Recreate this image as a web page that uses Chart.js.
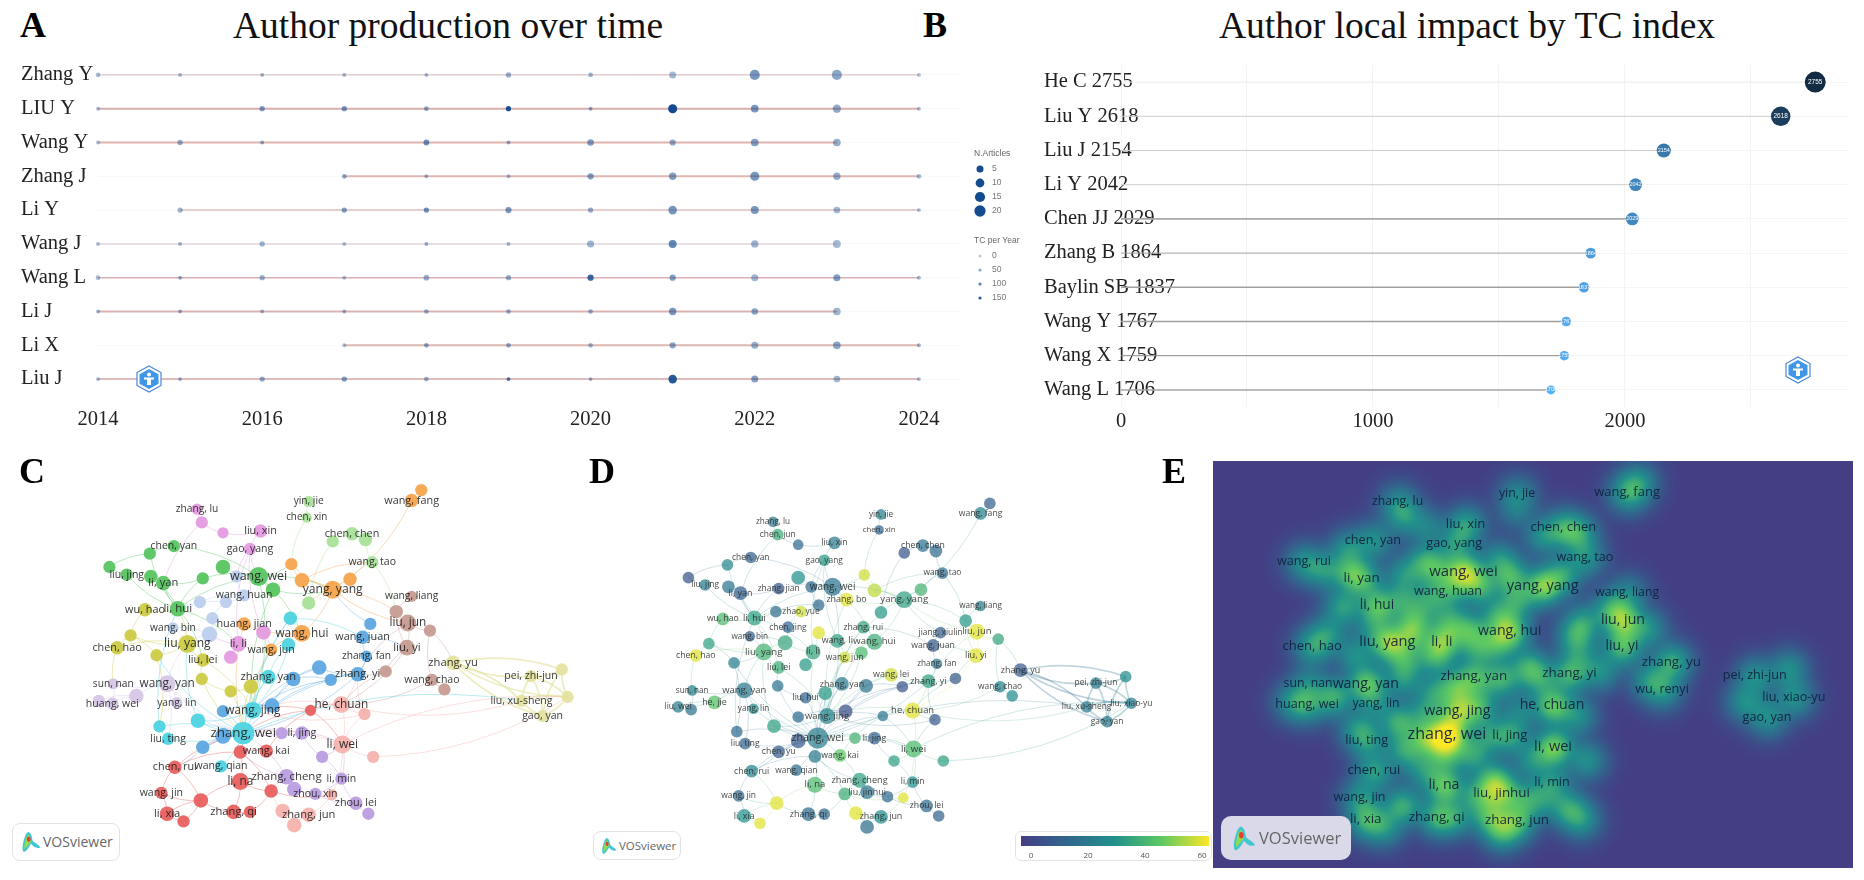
<!DOCTYPE html>
<html>
<head>
<meta charset="utf-8">
<title>Author production and collaboration</title>
<script src="https://cdn.jsdelivr.net/npm/chart.js@4/dist/chart.umd.min.js"></script>
<style>
  html, body { margin: 0; padding: 0; background: #fff; }
  #page { position: relative; width: 1864px; height: 880px; overflow: hidden; }
  #page canvas { position: absolute; filter: blur(0.4px); }
  .letter, .title { position: absolute; font-family: "Liberation Serif", serif; line-height: 36px; color: #111; white-space: nowrap; }
  .letter { font-size: 36px; font-weight: bold; color: #000; }
  .title { font-size: 37.5px; }
  .badge { position: absolute; box-sizing: border-box; border-radius: 8px; font-family: "Open Sans", sans-serif; color: #666; }
  .badge svg { position: absolute; }
  .badge span { position: absolute; white-space: nowrap; }
  .hex { position: absolute; width: 26px; height: 28px; }
  #scale { position: absolute; left: 1015px; top: 831px; width: 197px; height: 30px; box-sizing: border-box; border: 1px solid #e4e4e4; border-radius: 6px; background: #fff; }
  #scale i { position: absolute; left: 5px; top: 4px; width: 188px; height: 10px; }
  #scale span { position: absolute; top: 17px; width: 20px; margin-left: -10px; text-align: center; font: 8px "Open Sans", sans-serif; color: #555; }
</style>
</head>
<body>
<div id="page">
  <canvas id="chartA" width="1030" height="390" style="left:0;top:50px"></canvas>
  <canvas id="chartB" width="824" height="390" style="left:1040px;top:50px"></canvas>
  <canvas id="chartC" width="600" height="440" style="left:0;top:440px"></canvas>
  <canvas id="chartD" width="610" height="440" style="left:600px;top:440px"></canvas>
  <canvas id="chartE" width="640" height="407" style="left:1213px;top:461px"></canvas>

  <div class="letter" style="left:20px;top:7px">A</div>
  <div class="title" style="left:233px;top:8px">Author production over time</div>
  <div class="letter" style="left:923px;top:7px">B</div>
  <div class="title" style="left:1219px;top:8px">Author local impact by TC index</div>
  <div class="letter" style="left:19px;top:453px">C</div>
  <div class="letter" style="left:589px;top:453px">D</div>
  <div class="letter" style="left:1162px;top:453px">E</div>

  <svg width="0" height="0" style="position:absolute">
    <symbol id="hexMark" viewBox="0 0 26 28">
      <polygon points="13,1 25,7.5 25,20.5 13,27 1,20.5 1,7.5" fill="#fff" stroke="#4a86d8" stroke-width="1.2"/>
      <polygon points="13,4 22.5,9.2 22.5,18.8 13,24 3.5,18.8 3.5,9.2" fill="#3f97e6"/>
      <circle cx="13" cy="9.5" r="2" fill="#fff"/>
      <rect x="8" y="12.5" width="10" height="2" fill="#fff"/>
      <rect x="11" y="14" width="4" height="6" fill="#fff"/>
    </symbol>
    <symbol id="vosMark" viewBox="0 0 22 24">
      <path d="M8 1 C12 2 12 8 13 11 C15 13 21 16 21 18 C18 20 13 17 11 14 C9 17 7 22 3 23 C0 20 3 10 4 7 C5 4 6 2 8 1 Z" fill="#3fc6d0"/>
      <path d="M8 4 C10 5 10 9 11 12 C9 14 6 18 4 20 C3 16 5 9 6 7 Z" fill="#8fdc4e"/>
      <ellipse cx="8.5" cy="9" rx="2" ry="3" fill="#ec3b2e"/>
    </symbol>
  </svg>
  <svg class="hex" style="left:136px;top:365px"><use href="#hexMark"/></svg>
  <svg class="hex" style="left:1785px;top:356px"><use href="#hexMark"/></svg>

  <div class="badge" style="left:12px;top:823px;width:108px;height:38px;background:#fff;border:1px solid #e2e2e2">
    <svg style="left:8px;top:7px" width="20" height="22"><use href="#vosMark"/></svg>
    <span style="left:30px;top:8px;font-size:14px;line-height:20px">VOSviewer</span>
  </div>
  <div class="badge" style="left:593px;top:831px;width:88px;height:29px;background:#fff;border:1px solid #e2e2e2">
    <svg style="left:7px;top:5px" width="16" height="18"><use href="#vosMark"/></svg>
    <span style="left:25px;top:5px;font-size:11.5px;line-height:18px">VOSviewer</span>
  </div>
  <div id="scale"><i></i></div>
  <div class="badge" style="left:1221px;top:816px;width:130px;height:44px;background:#d9d9e9;border-radius:10px">
    <svg style="left:11px;top:9px" width="24" height="27"><use href="#vosMark"/></svg>
    <span style="left:38px;top:10px;font-size:16.5px;line-height:24px">VOSviewer</span>
  </div>
</div>

<script>
/************************************************************
    PANEL A - author production over time
*************************************************************/
var years = [2014, 2015, 2016, 2017, 2018, 2019, 2020, 2021, 2022, 2023, 2024];
var authorsA = ['Zhang Y', 'LIU Y', 'Wang Y', 'Zhang J', 'Li Y', 'Wang J', 'Wang L', 'Li J', 'Li X', 'Liu J'];
// one row per author, one column per year, null = no paper that year
var articles = [
  [2, 1, 1, 1, 1, 3, 2, 7, 18, 18, 1],
  [1, null, 3, 3, 2, 3, 1, 14, 9, 11, 1],
  [1, 3, 1, null, 4, 1, 6, 5, 9, 9, null],
  [null, null, null, 2, 1, 1, 5, 8, 14, 8, 2],
  [null, 3, null, 3, 3, 5, 3, 12, 10, 6, 1],
  [1, 1, 3, 1, 1, 1, 7, 10, 8, 10, null],
  [2, 1, 3, 1, 4, 3, 5, 5, 7, 7, 1],
  [1, 1, 1, 1, 2, 2, 2, 8, 6, 9, null],
  [null, null, null, 1, 2, 2, 2, 5, 7, 9, 1],
  [1, 1, 3, 3, 2, 1, 1, 12, 7, 6, 1]
];
var tcPerYear = [
  [20, 30, 30, 30, 30, 40, 30, 25, 70, 50, 15],
  [20, null, 60, 70, 50, 160, 40, 170, 70, 45, 20],
  [20, 40, 40, null, 80, 40, 60, 45, 60, 40, null],
  [null, null, null, 50, 30, 25, 60, 60, 70, 40, 25],
  [null, 30, null, 60, 80, 70, 40, 70, 70, 30, 25],
  [25, 30, 30, 25, 40, 30, 30, 90, 35, 25, null],
  [25, 40, 35, 25, 35, 40, 130, 60, 30, 60, 25],
  [30, 35, 30, 35, 40, 40, 40, 70, 50, 30, null],
  [null, null, null, 25, 50, 50, 30, 50, 40, 50, 30],
  [30, 35, 40, 60, 40, 120, 35, 150, 60, 30, 25]
];
var legendArticles = [5, 10, 15, 20];
var legendTc = [0, 50, 100, 150];

/************************************************************
    PANEL B - author local impact
*************************************************************/
var authorsB = ['He C', 'Liu Y', 'Liu J', 'Li Y', 'Chen JJ', 'Zhang B', 'Baylin SB', 'Wang Y', 'Wang X', 'Wang L'];
var tcIndex = [2755, 2618, 2154, 2042, 2029, 1864, 1837, 1767, 1759, 1706];
var ticksB = [0, 500, 1000, 1500, 2000, 2500];

/************************************************************
    PANELS C, D, E - the same co-authorship map
*************************************************************/
var clusterSizes = [8, 7, 11, 9, 7, 9, 11, 8, 9, 6, 6, 9, 12, 8];
var nodeNames = [
  'zhang, lu', 'chen, jun', 'liu, fang', 'liu, xin', 'gao, yang', 'li, li', 'wang, li', 'wang, ying',
  'yin, jie', 'chen, xin', 'chen, chen', 'li, jun', 'wang, ping', 'wang, tao', 'zhang, min',
  'chen, yan', 'li, qing', 'wang, rui', 'liu, jing', 'zhao, wei', 'li, yan', 'zhang, jian', 'zhang, hong', 'wang, wei', 'zhang, bo', 'li, hui',
  'wang, gang', 'wang, fang', 'wu, jie', 'li, ming', 'zhang, lin', 'yang, yang', 'huang, jian', 'wang, hui', 'wang, jun',
  'chen, lei', 'wang, huan', 'liu, hong', 'zhao, yue', 'chen, jing', 'wang, bin', 'li, xin',
  'zhang, rui', 'li, bo', 'zhang, yan', 'wang, jing', 'liu, bo', 'zhang, hao', 'liu, ting', 'zhang, wei', 'wang, qian',
  'jiang, xiulin', 'wang, juan', 'zhang, fan', 'wang, lei', 'zhang, yi', 'li, tao', 'chen, wei', 'li, yong', 'liu, wen', 'xu, jing', 'chen, yu',
  'wang, liang', 'liu, min', 'liu, jun', 'li, peng', 'liu, yi', 'zhang, ling', 'wang, chao', 'wu, renyi',
  'wu, hao', 'zhang, qian', 'chen, hao', 'wang, yu', 'liu, yang', 'liu, lei', 'yang, fan', 'liu, hui', 'li, dan',
  'zhang, yu', 'pei, zhi-jun', 'li, shu-ping', 'liu, xiao-yu', 'liu, xu-sheng', 'gao, yan',
  'sun, nan', 'wang, yan', 'he, jie', 'liu, wei', 'huang, wei', 'yang, lin',
  'zhao, jun', 'li, jing', 'li, lin', 'zhang, cheng', 'li, min', 'liu, jinhui', 'zhou, xin', 'zhou, lei', 'xu, wei',
  'sun, wei', 'wang, kai', 'yang, kai', 'chen, rui', 'li, na', 'liu, na', 'wang, jin', 'li, jie', 'li, xia', 'li, hong', 'zhang, qi', 'wang, xin',
  'he, chuan', 'li, yu', 'li, wei', 'yang, li', 'zhang, hui', 'wang, min', 'zhang, jun', 'wang, yi'
];
var nodeX = [
  193, 198, 220, 259, 248, 236, 262, 228,
  309, 307, 354, 334, 368, 375, 309,
  169, 144, 102, 120, 145, 158, 199, 220, 257, 272, 173,
  426, 416, 291, 302, 352, 334, 242, 302, 270,
  234, 242, 196, 223, 209, 168, 206,
  290, 288, 267, 251, 194, 154, 163, 241, 218,
  373, 365, 369, 320, 360, 332, 293, 271, 220, 220, 199,
  416, 400, 412, 435, 411, 389, 437, 450,
  139, 124, 110, 151, 183, 199, 198, 228, 249,
  459, 540, 572, 578, 530, 552,
  106, 162, 130, 91, 105, 172,
  281, 302, 323, 286, 343, 294, 316, 358, 371,
  311, 265, 238, 170, 238, 270, 156, 197, 162, 179, 231, 248,
  343, 367, 344, 376, 333, 282, 309, 294
];
var nodeY = [
  501, 515, 526, 524, 543, 643, 631, 657,
  493, 510, 527, 535, 533, 557, 600,
  540, 548, 562, 570, 572, 579, 574, 562, 572, 586, 606,
  481, 492, 559, 576, 575, 586, 622, 632, 649,
  572, 592, 599, 599, 616, 626, 633,
  616, 644, 678, 713, 724, 730, 743, 737, 772,
  622, 636, 656, 668, 675, 681, 680, 708, 714, 740, 752,
  593, 609, 621, 629, 647, 672, 681, 691,
  607, 634, 647, 655, 643, 660, 680, 693, 688,
  663, 677, 670, 699, 703, 719,
  685, 685, 698, 703, 706, 705,
  737, 737, 762, 783, 785, 796, 801, 811, 822,
  713, 756, 757, 773, 788, 798, 800, 808, 822, 830, 820, 820,
  707, 717, 749, 762, 802, 819, 823, 834
];
var nodeWeight = [
  10, 11, 10, 12, 11, 14, 13, 12,
  10, 9, 12, 11, 12, 11, 12,
  11, 11, 11, 11, 12, 13, 11, 13, 17, 13, 14,
  11, 12, 11, 13, 12, 16, 12, 15, 11,
  11, 11, 11, 11, 11, 10, 14,
  12, 12, 13, 15, 13, 11, 11, 20, 11,
  11, 12, 10, 13, 13, 11, 13, 13, 11, 14, 12,
  10, 12, 15, 11, 14, 11, 11, 11,
  12, 11, 12, 11, 16, 12, 11, 11, 13,
  13, 11, 11, 11, 11, 11,
  10, 15, 13, 11, 11, 10,
  11, 12, 11, 14, 11, 13, 11, 12, 11,
  10, 12, 12, 12, 15, 12, 11, 13, 13, 11, 13, 11,
  15, 11, 16, 11, 10, 13, 13, 13
];
// average publication year score of panel D
var nodeScore = [
  20, 38, 14, 22, 32, 36, 34, 32,
  24, 12, 18, 6, 14, 16, 32,
  10, 26, 6, 22, 18, 10, 8, 30, 18, 60, 34,
  10, 24, 58, 56, 40, 34, 60, 38, 58,
  14, 14, 15, 58, 14, 10, 36,
  36, 42, 20, 24, 34, 14, 12, 22, 16,
  10, 8, 20, 58, 34, 6, 18, 4, 14, 8, 10,
  22, 32, 60, 36, 60, 8, 24, 28,
  42, 34, 60, 22, 40, 38, 18, 12, 32,
  8, 20, 28, 22, 20, 20,
  24, 20, 44, 22, 18, 28,
  40, 12, 34, 34, 30, 18, 14, 14, 12,
  20, 46, 20, 24, 42, 38, 14, 60, 30, 60, 14, 14,
  60, 8, 42, 34, 60, 60, 28, 16
];
var edgePairs = [
  [0,1],[1,2],[2,3],[3,4],[4,23],[1,20],[4,35],[4,5],[5,41],[6,34],[7,5],[6,4],
  [8,9],[9,28],[10,11],[10,12],[11,14],[12,13],[13,30],[13,63],
  [15,16],[16,17],[15,23],[16,25],[17,18],[18,25],[19,25],[20,25],[20,21],[21,23],[22,23],[25,23],[25,21],[25,75],[25,5],[23,24],[24,31],[23,31],[23,28],[23,33],[24,45],[23,45],
  [26,27],[27,31],[28,31],[29,31],[30,31],[28,29],[31,33],[31,14],[14,42],[33,34],[32,33],[34,45],[32,49],[31,64],[31,63],[29,13],
  [35,36],[36,37],[36,38],[37,25],[38,39],[39,41],[41,40],[40,74],[35,23],[38,25],[41,74],
  [42,45],[42,52],[43,34],[43,45],[44,45],[45,49],[46,49],[47,49],[48,49],[47,48],[50,49],[46,45],[44,49],[49,73],[42,49],[46,74],[43,44],[47,25],
  [51,52],[52,53],[53,55],[54,55],[54,57],[55,56],[56,57],[57,58],[58,45],[58,59],[59,49],[60,49],[61,49],[61,60],[55,58],[56,45],[52,66],[51,31],[56,49],[55,49],[54,45],[57,45],
  [62,63],[63,64],[64,65],[64,66],[65,68],[66,67],[67,55],[68,69],[63,66],[67,112],[68,112],[64,55],[66,112],[65,79],
  [70,71],[71,72],[71,73],[70,25],[73,74],[74,75],[75,76],[76,77],[77,78],[78,45],[78,44],[72,85],[72,74],[74,25],[73,47],[76,49],[77,49],[78,49],[75,45],[71,74],
  [79,80],[79,81],[79,82],[79,83],[80,81],[80,82],[80,83],[80,84],[81,82],[81,84],[82,83],[82,84],[83,84],[79,84],[49,83],[112,83],[114,82],[115,82],
  [85,86],[86,87],[87,88],[88,89],[85,89],[86,90],[86,74],[90,49],[89,87],[86,49],[86,48],
  [91,92],[91,49],[92,49],[92,93],[93,114],[94,49],[94,96],[94,105],[95,97],[95,98],[96,97],[97,98],[98,99],[93,95],[92,114],[94,102],[95,114],
  [100,112],[100,49],[100,101],[101,102],[102,49],[102,104],[102,103],[103,49],[103,106],[103,107],[104,107],[104,110],[104,105],[105,102],[106,107],[106,108],[107,108],[107,109],[108,109],[107,110],[110,111],[105,111],[105,116],[100,114],[100,45],[61,103],
  [112,113],[112,114],[113,114],[114,115],[114,116],[116,118],[117,118],[118,119],[117,119],[112,45],[113,45],[113,55],[114,49],[117,105],[112,55]
];
var labelsC = ['zhang, lu', 'yin, jie', 'chen, xin', 'wang, fang', 'liu, xin', 'gao, yang', 'chen, chen', 'chen, yan', 'wang, tao', 'liu, jing', 'li, yan', 'wang, wei', 'wang, huan', 'yang, yang', 'wang, liang', 'wu, hao', 'li, hui', 'huang, jian', 'wang, bin', 'wang, hui', 'liu, jun', 'wang, juan', 'liu, yang', 'li, li', 'chen, hao', 'wang, jun', 'liu, yi', 'liu, lei', 'zhang, fan', 'zhang, yu', 'zhang, yi', 'zhang, yan', 'sun, nan', 'wang, yan', 'wang, chao', 'pei, zhi-jun', 'huang, wei', 'yang, lin', 'he, chuan', 'wang, jing', 'liu, xu-sheng', 'gao, yan', 'zhang, wei', 'li, jing', 'liu, ting', 'wang, kai', 'li, wei', 'chen, rui', 'wang, qian', 'li, na', 'zhang, cheng', 'li, min', 'zhou, xin', 'wang, jin', 'zhou, lei', 'li, xia', 'zhang, qi', 'zhang, jun'];
var labelsD = ['zhang, lu', 'chen, jun', 'yin, jie', 'chen, xin', 'liu, xin', 'gao, yang', 'chen, chen', 'wang, tao', 'chen, yan', 'wang, fang', 'liu, jing', 'li, yan', 'zhang, jian', 'wang, wei', 'zhang, bo', 'yang, yang', 'zhao, yue', 'wu, hao', 'li, hui', 'chen, jing', 'zhang, rui', 'wang, liang', 'jiang, xiulin', 'liu, jun', 'wang, bin', 'wang, li', 'wang, hui', 'wang, juan', 'liu, yang', 'li, li', 'wang, jun', 'liu, yi', 'chen, hao', 'liu, lei', 'zhang, fan', 'wang, lei', 'zhang, yi', 'zhang, yan', 'zhang, yu', 'sun, nan', 'wang, yan', 'wang, chao', 'liu, wei', 'he, jie', 'yang, lin', 'liu, hui', 'he, chuan', 'wang, jing', 'pei, zhi-jun', 'liu, xu-sheng', 'liu, xiao-yu', 'gao, yan', 'liu, ting', 'zhang, wei', 'li, jing', 'chen, yu', 'wang, kai', 'li, wei', 'chen, rui', 'wang, qian', 'li, na', 'zhang, cheng', 'li, min', 'liu, jinhui', 'wang, jin', 'zhou, lei', 'li, xia', 'zhang, qi', 'zhang, jun'];
var labelsE = ['zhang, lu', 'yin, jie', 'wang, fang', 'liu, xin', 'chen, chen', 'chen, yan', 'gao, yang', 'wang, tao', 'wang, rui', 'li, yan', 'wang, wei', 'yang, yang', 'wang, huan', 'wang, liang', 'li, hui', 'liu, jun', 'wang, hui', 'liu, yi', 'chen, hao', 'liu, yang', 'li, li', 'zhang, yu', 'zhang, yan', 'zhang, yi', 'sun, nan', 'wang, yan', 'wu, renyi', 'pei, zhi-jun', 'liu, xiao-yu', 'huang, wei', 'yang, lin', 'wang, jing', 'he, chuan', 'gao, yan', 'liu, ting', 'zhang, wei', 'li, jing', 'li, wei', 'chen, rui', 'li, min', 'li, na', 'liu, jinhui', 'wang, jin', 'li, xia', 'zhang, qi', 'zhang, jun'];
var scoreTicks = [0, 20, 40, 60];

// cluster colours of panel C and colour ramp of panels D and E
var clusterColors = ['#e49be0', '#a9e29a', '#58c562', '#f5a54e', '#bccfee', '#4fd3e0', '#5da8e2', '#c69c94', '#cccb46', '#e4e3a0', '#d6c7e6', '#bb9ee2', '#e9605f', '#f5b3ae'];
var rampStops = [[68, 62, 133], [49, 104, 142], [33, 145, 140], [94, 201, 98], [253, 231, 37]];

/* ------------------
  helpers
-------------------*/
function rampColor(t) {
  t = Math.max(0, Math.min(1, t)) * (rampStops.length - 1);
  var i = Math.min(Math.floor(t), rampStops.length - 2), f = t - i;
  return rampStops[i].map(function (c, k) { return Math.round(c + (rampStops[i + 1][k] - c) * f); });
}
function scoreColor(score, alpha) {
  var c = rampColor((score + 3) / 66);
  return 'rgba(' + c[0] + ',' + c[1] + ',' + c[2] + ',' + alpha + ')';
}
function hexAlpha(hex, alpha) {
  var n = parseInt(hex.slice(1), 16);
  return 'rgba(' + (n >> 16) + ',' + ((n >> 8) & 255) + ',' + (n & 255) + ',' + alpha + ')';
}
function articleRadius(n) { return 1 + Math.sqrt(n) * 0.95; }
function tcColor(tc) { return 'rgba(19,75,142,' + (0.28 + 0.72 * Math.min(tc / 170, 1)) + ')'; }
// the axes keep exactly the size given to them, no room for overhanging labels
function fixAxis(size) {
  return function (s) {
    s[s.isHorizontal() ? 'height' : 'width'] = size;
    s.paddingTop = s.paddingBottom = s.paddingLeft = s.paddingRight = 0;
  };
}

var nodeCluster = [];
clusterSizes.forEach(function (size, c) { for (var i = 0; i < size; i++) nodeCluster.push(c); });

var scaleBar = document.querySelector('#scale i');
scaleBar.style.background = 'linear-gradient(to right,' + rampStops.map(function (c) { return 'rgb(' + c.join(',') + ')'; }).join(',') + ')';
scoreTicks.forEach(function (v) {
  var s = document.createElement('span');
  s.textContent = v;
  s.style.left = (15 + (v / 20) * 57) + 'px';
  document.getElementById('scale').appendChild(s);
});

Chart.defaults.animation = false;
Chart.defaults.responsive = false;
Chart.defaults.devicePixelRatio = 1;
Chart.defaults.plugins.legend.display = false;
Chart.defaults.plugins.tooltip.enabled = false;

/* ------------------
  panel A chart
-------------------*/
var segColorsA = ['rgba(205,165,170,.8)', 'rgba(215,165,165,.9)', 'rgba(220,170,165,.9)', 'rgba(220,175,170,.9)', 'rgba(225,195,195,.8)', 'rgba(228,220,225,.9)', 'rgba(210,165,170,.85)', 'rgba(215,170,170,.9)', 'rgba(215,175,170,.9)', 'rgba(220,180,180,.9)'];
var segWidthsA = [1, 2, 2, 2, 2, 2, 1.4, 2, 2, 2];
var datasetsA = [];
authorsA.forEach(function (name, row) {
  var have = years.filter(function (y, i) { return articles[row][i] !== null; });
  datasetsA.push({
    type: 'line', data: [{ x: have[0], y: name }, { x: have[have.length - 1], y: name }],
    borderColor: segColorsA[row], borderWidth: segWidthsA[row], pointRadius: 0, clip: false, order: 2
  });
});
authorsA.forEach(function (name, row) {
  var pts = [], cols = [];
  years.forEach(function (y, i) {
    if (articles[row][i] === null) return;
    pts.push({ x: y, y: name, r: articleRadius(articles[row][i]) });
    cols.push(tcColor(tcPerYear[row][i]));
  });
  datasetsA.push({ type: 'bubble', data: pts, backgroundColor: cols, borderWidth: 0, clip: false, order: 1 });
});

var legendPluginA = {
  id: 'legendPluginA',
  afterDraw: function (chart) {
    var ctx = chart.ctx;
    ctx.save();
    ctx.textBaseline = 'middle';
    ctx.textAlign = 'left';
    ctx.fillStyle = '#666';
    ctx.font = '8.5px "Liberation Sans"';
    ctx.fillText('N.Articles', 974, 104);
    ctx.fillText('TC per Year', 974, 191);
    legendArticles.forEach(function (n, i) {
      var y = 119 + i * 14;
      ctx.fillStyle = '#134b8e';
      ctx.beginPath(); ctx.arc(980, y, articleRadius(n) + 0.4, 0, 7); ctx.fill();
      ctx.fillStyle = '#777';
      ctx.fillText(n, 992, y);
    });
    legendTc.forEach(function (v, i) {
      var y = 206 + i * 14;
      ctx.fillStyle = tcColor(v);
      ctx.beginPath(); ctx.arc(980, y, 1.6, 0, 7); ctx.fill();
      ctx.fillStyle = '#777';
      ctx.fillText(v, 992, y);
    });
    ctx.restore();
  }
};

var chartA = new Chart(document.getElementById('chartA'), {
  type: 'bubble',
  data: { datasets: datasetsA },
  plugins: [legendPluginA],
  options: {
    layout: { padding: { left: 21, right: 70, top: 8, bottom: 0 } },
    scales: {
      x: {
        type: 'linear', min: 2014, max: 2024.5,
        grid: { display: false, drawTicks: false }, border: { display: false },
        afterFit: fixAxis(44),
        ticks: {
          stepSize: 2, includeBounds: false, padding: 11, maxRotation: 0, color: '#222',
          font: { family: 'Liberation Serif', size: 20.5 },
          callback: function (v) { return String(v); }
        }
      },
      y: {
        type: 'category', labels: authorsA, offset: true,
        grid: { color: '#f8f8f8', drawTicks: false }, border: { display: false },
        afterFit: fixAxis(77),
        ticks: { autoSkip: false, mirror: true, padding: -77, crossAlign: 'near', color: '#222', font: { family: 'Liberation Serif', size: 20.5 } }
      }
    }
  }
});

/* ------------------
  panel B chart
-------------------*/
var segColorsB = ['#eeeeee', '#cfcfcf', '#cccccc', '#cfcfcf', '#a8a8a8', '#a5a5a5', '#a0a0a0', '#a0a0a0', '#8a8a8a', '#a6a6a6'];
var segWidthsB = [1, 1, 1, 1, 1.6, 1, 1.5, 1.5, 1, 1.5];
var labelsB = authorsB.map(function (name, i) { return name + ' ' + tcIndex[i]; });
var datasetsB = [];
labelsB.forEach(function (label, i) {
  datasetsB.push({
    type: 'line', data: [{ x: 0, y: label }, { x: tcIndex[i], y: label }],
    borderColor: segColorsB[i], borderWidth: segWidthsB[i], pointRadius: 0, clip: false, order: 2
  });
});
function impactT(v) { return (v - 1706) / (2755 - 1706); }
datasetsB.push({
  type: 'bubble',
  data: labelsB.map(function (label, i) { return { x: tcIndex[i], y: label, r: 4.5 + impactT(tcIndex[i]) * 6 }; }),
  backgroundColor: tcIndex.map(function (v) {
    var t = impactT(v);
    return 'rgb(' + Math.round(86 - 67 * t) + ',' + Math.round(177 - 134 * t) + ',' + Math.round(247 - 180 * t) + ')';
  }),
  borderWidth: 0, clip: false, order: 1
});
var valuePluginB = {
  id: 'valuePluginB',
  afterDatasetsDraw: function (chart) {
    var ctx = chart.ctx, sx = chart.scales.x, sy = chart.scales.y;
    ctx.save();
    ctx.fillStyle = '#fff';
    ctx.textAlign = 'center';
    ctx.textBaseline = 'middle';
    tcIndex.forEach(function (v, i) {
      ctx.font = (i < 2 ? 6.5 : 5.5) + 'px "Liberation Sans"';
      ctx.fillText(v, sx.getPixelForValue(v), sy.getPixelForValue(i));
    });
    ctx.restore();
  }
};
var chartB = new Chart(document.getElementById('chartB'), {
  type: 'bubble',
  data: { datasets: datasetsB },
  plugins: [valuePluginB],
  options: {
    layout: { padding: { left: 4, right: 15, top: 15, bottom: 0 } },
    scales: {
      x: {
        type: 'linear', min: 0, max: 2889,
        grid: { color: '#f3f3f3', drawTicks: false }, border: { display: false },
        afterFit: fixAxis(33),
        afterBuildTicks: function (s) { s.ticks = ticksB.map(function (v) { return { value: v }; }); },
        ticks: {
          padding: 2, maxRotation: 0, autoSkip: false, color: '#222',
          font: { family: 'Liberation Serif', size: 20.5 },
          callback: function (v) { return v % 1000 === 0 ? String(v) : ''; }
        }
      },
      y: {
        type: 'category', labels: labelsB, offset: true,
        grid: { color: '#f5f5f5', drawTicks: false }, border: { display: false },
        afterFit: fixAxis(77),
        ticks: { autoSkip: false, mirror: true, padding: -77, crossAlign: 'near', color: '#222', font: { family: 'Liberation Serif', size: 20.5 } }
      }
    }
  }
});

/* ------------------
  network panels
-------------------*/
var edgePlugin = {
  id: 'edgePlugin',
  beforeDatasetsDraw: function (chart, args, opts) {
    var ctx = chart.ctx, sx = chart.scales.x, sy = chart.scales.y;
    ctx.save();
    edgePairs.forEach(function (pair) {
      var a = pair[0], b = pair[1];
      var ax = sx.getPixelForValue(nodeX[a]), ay = sy.getPixelForValue(nodeY[a]);
      var bx = sx.getPixelForValue(nodeX[b]), by = sy.getPixelForValue(nodeY[b]);
      var bend = ((a + b) % 2 ? 1 : -1) * 0.14;
      var thick = nodeCluster[a] === 9 && nodeCluster[b] === 9;
      ctx.beginPath();
      ctx.moveTo(ax, ay);
      ctx.quadraticCurveTo((ax + bx) / 2 - (by - ay) * bend, (ay + by) / 2 + (bx - ax) * bend, bx, by);
      ctx.strokeStyle = opts.mode === 'cluster'
        ? hexAlpha(clusterColors[nodeCluster[a]], thick ? 0.65 : 0.45)
        : scoreColor((nodeScore[a] + nodeScore[b]) / 2, thick ? 0.3 : 0.24);
      ctx.lineWidth = thick ? 1.7 : 0.9;
      ctx.stroke();
    });
    ctx.restore();
  }
};
var labelPlugin = {
  id: 'labelPlugin',
  afterDatasetsDraw: function (chart, args, opts) {
    var ctx = chart.ctx, sx = chart.scales.x, sy = chart.scales.y;
    ctx.save();
    ctx.textAlign = 'center';
    ctx.textBaseline = 'middle';
    ctx.fillStyle = opts.color;
    opts.names.forEach(function (name) {
      var i = nodeNames.indexOf(name);
      ctx.font = (7 + 0.32 * nodeWeight[i]) * opts.zoom + 'px "Open Sans"';
      ctx.fillText(name, sx.getPixelForValue(nodeX[i]), sy.getPixelForValue(nodeY[i]));
    });
    ctx.restore();
  }
};
var densityPlugin = {
  id: 'densityPlugin',
  beforeDatasetsDraw: function (chart) {
    var area = chart.chartArea, sx = chart.scales.x, sy = chart.scales.y;
    var step = 2, w = Math.ceil(area.width / step), h = Math.ceil(area.height / step);
    var off = document.createElement('canvas');
    off.width = w; off.height = h;
    var octx = off.getContext('2d'), img = octx.createImageData(w, h);
    var px = nodeX.map(function (v) { return sx.getPixelForValue(v); });
    var py = nodeY.map(function (v) { return sy.getPixelForValue(v); });
    var sigma = 12;
    for (var j = 0; j < h; j++) {
      for (var i = 0; i < w; i++) {
        var x = area.left + i * step, y = area.top + j * step, d = 0;
        for (var n = 0; n < px.length; n++) {
          var dx = x - px[n], dy = y - py[n];
          d += Math.max(nodeWeight[n] / 2 - 3.5, 0.5) * Math.exp(-(dx * dx + dy * dy) / (2 * sigma * sigma));
        }
        var c = rampColor(Math.pow(d / 7, 0.6));
        var k = (j * w + i) * 4;
        img.data[k] = c[0]; img.data[k + 1] = c[1]; img.data[k + 2] = c[2]; img.data[k + 3] = 255;
      }
    }
    octx.putImageData(img, 0, 0);
    chart.ctx.imageSmoothingEnabled = true;
    chart.ctx.drawImage(off, area.left, area.top, w * step, h * step);
  }
};

function networkChart(id, xRange, yRange, nodeColors, nodeZoom, plugins, pluginOptions) {
  return new Chart(document.getElementById(id), {
    type: 'bubble',
    data: {
      datasets: [{
        data: nodeX.map(function (x, i) { return { x: x, y: nodeY[i], r: nodeWeight[i] / 2 * nodeZoom }; }),
        backgroundColor: nodeColors, borderWidth: 0, clip: false
      }]
    },
    plugins: plugins,
    options: {
      layout: { padding: 0 },
      plugins: pluginOptions,
      scales: {
        x: { type: 'linear', min: xRange[0], max: xRange[1], display: false },
        y: { type: 'linear', min: yRange[0], max: yRange[1], reverse: true, display: false }
      }
    }
  });
}

var chartC = networkChart('chartC', [0, 600], [440, 880],
  nodeCluster.map(function (c) { return hexAlpha(clusterColors[c], 0.95); }), 1.12,
  [edgePlugin, labelPlugin],
  { edgePlugin: { mode: 'cluster' }, labelPlugin: { names: labelsC, zoom: 1, color: 'rgba(30,30,30,.9)' } });

var chartD = networkChart('chartD', [18.4, 651.2], [423.4, 880.3],
  nodeScore.map(function (s) { return scoreColor(s, 0.72); }), 1.06,
  [edgePlugin, labelPlugin],
  { edgePlugin: { mode: 'score' }, labelPlugin: { names: labelsD, zoom: 0.8, color: 'rgba(40,40,40,.85)' } });

var chartE = networkChart('chartE', [13.6, 635.5], [460, 871.6],
  nodeX.map(function () { return 'rgba(0,0,0,0)'; }), 0,
  [densityPlugin, labelPlugin],
  { labelPlugin: { names: labelsE, zoom: 1.2, color: 'rgba(15,30,60,.92)' } });
</script>
</body>
</html>
